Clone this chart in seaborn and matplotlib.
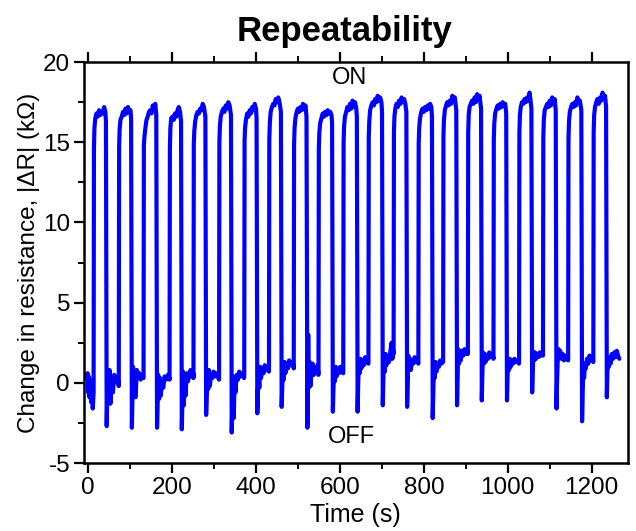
import pandas as pd
import seaborn as sns
import matplotlib.pyplot as plt
from matplotlib.ticker import MultipleLocator

# Trace, one row per ON/OFF cycle
time_s = [
    -3, -1.5, 0, 1.5, 3, 5, 7, 9, 11, 12.5,
    13, 13.8, 15, 17, 20, 23, 26, 29, 32, 35, 38, 41, 42.4,
    44.2, 45.5, 47, 49, 51, 53, 56, 59, 62, 66, 70, 72.7,
    73, 73.8, 75, 77, 80, 83, 86, 89, 92, 95, 98, 101, 102.4,
    104.2, 105.5, 107, 109, 111, 113, 116, 119, 122, 125, 128, 131.7,
    132, 132.8, 134, 136, 139, 142, 145, 148, 151, 154, 157, 160, 162.4,
    164.2, 165.5, 167, 169, 171, 173, 176, 179, 182, 186, 190, 193.7,
    194, 194.8, 196, 198, 201, 204, 207, 210, 213, 216, 219, 221.4,
    223.2, 224.5, 226, 228, 230, 232, 235, 238, 241, 244, 247, 250.7,
    251, 251.8, 253, 255, 258, 261, 264, 267, 270, 273, 276, 279.4,
    281.2, 282.5, 284, 286, 288, 290, 293, 296, 299, 303, 307, 311.7,
    312, 312.8, 314, 316, 319, 322, 325, 328, 331, 334, 337, 340.4,
    342.2, 343.5, 345, 347, 349, 351, 354, 357, 360, 364, 368, 371.7,
    372, 372.8, 374, 376, 379, 382, 385, 388, 391, 394, 397, 400, 401.4,
    403.2, 404.5, 406, 408, 410, 412, 415, 418, 421, 424, 427, 430.7,
    431, 431.8, 433, 435, 438, 441, 444, 447, 450, 453, 456, 459.4,
    461.2, 462.5, 464, 466, 468, 470, 473, 476, 479, 483, 487, 489.7,
    490, 490.8, 492, 494, 497, 500, 503, 506, 509, 512, 515, 518, 520.4,
    522.5, 524.5, 526, 528, 530, 532, 535, 538, 541, 544, 547, 548.7,
    549, 549.8, 551, 553, 556, 559, 562, 565, 568, 571, 574, 577, 580, 581.4,
    583.2, 584.5, 586, 588, 590, 592, 595, 598, 601, 604, 607.7,
    608, 608.8, 610, 612, 615, 618, 621, 624, 627, 630, 633, 636, 639, 640.4,
    642.2, 643.5, 645, 647, 649, 651, 654, 657, 660, 663, 667.7,
    668, 668.8, 670, 672, 675, 678, 681, 684, 687, 690, 693, 696, 699, 700.4,
    702.2, 703.5, 705, 707, 709, 711, 714, 717, 720, 723, 725, 727.7,
    728, 728.8, 730, 732, 735, 738, 741, 744, 747, 750, 753, 756, 758.4,
    760.2, 761.5, 763, 765, 767, 769, 772, 775, 778, 781, 784, 786.7,
    787, 787.8, 789, 791, 794, 797, 800, 803, 806, 809, 812, 815, 818, 819.4,
    821.2, 822.5, 824, 826, 828, 830, 833, 836, 839, 842, 845.7,
    846, 846.8, 848, 850, 853, 856, 859, 862, 865, 868, 871, 874, 877.4,
    879.2, 880.5, 882, 884, 886, 888, 891, 894, 897, 900, 904.7,
    905, 905.8, 907, 909, 912, 915, 918, 921, 924, 927, 930, 933, 936.4,
    938.2, 939.5, 941, 943, 945, 947, 950, 953, 956, 959, 962, 965.7,
    966, 966.8, 968, 970, 973, 976, 979, 982, 985, 988, 991, 994, 996.4,
    998.2, 999.5, 1001, 1003, 1005, 1007, 1010, 1013, 1016, 1020, 1024, 1026.7,
    1027, 1027.8, 1029, 1031, 1034, 1037, 1040, 1043, 1046, 1049, 1052, 1054, 1056.4,
    1058.2, 1059.5, 1061, 1063, 1065, 1067, 1070, 1073, 1076, 1079, 1083.7,
    1084, 1084.8, 1086, 1088, 1091, 1094, 1097, 1100, 1103, 1106, 1109, 1112, 1114.4,
    1116.2, 1117.5, 1119, 1121, 1123, 1125, 1128, 1131, 1134, 1137, 1140, 1143.7,
    1144, 1144.8, 1146, 1148, 1151, 1154, 1157, 1160, 1163, 1166, 1169, 1172, 1175.4,
    1177.2, 1178.5, 1180, 1182, 1184, 1186, 1189, 1192, 1195, 1198, 1201, 1203.7,
    1204, 1204.8, 1206, 1208, 1211, 1214, 1217, 1220, 1223, 1226, 1229, 1232, 1234.4,
    1236.2, 1237.5, 1239, 1241, 1243, 1245, 1248, 1251, 1254, 1257, 1260, 1263, 1266,
]

delta_r_kohm = [
    0.3, 0.6, -0.6, 0.4, -0.9, 0.2, -1.2, -0.4, -1.6, -0.8,
    -0.6, 14.6, 15.9, 16.5, 16.8, 16.6, 17.0, 16.7, 16.9, 16.8, 17.2, 16.9, 16.3,
    -2.7, -0.9, 0.6, -0.5, 0.8, -1.3, 0.2, -0.6, 0.5, 0.1, 0.4, -0.2,
    -0.2, 14.7, 15.8, 16.4, 16.6, 16.9, 16.7, 17.1, 16.8, 17.2, 16.9, 17.0, 16.4,
    -2.8, -1.0, 1.0, -0.3, 0.6, -0.9, 0.8, 0.3, 0.6, 0.2, 0.5, 0.3,
    0.3, 14.8, 15.3, 15.8, 16.4, 16.6, 16.9, 17.0, 16.8, 17.3, 17.1, 17.4, 16.7,
    -2.8, -1.2, 0.5, -1.0, 0.3, -0.8, 0.1, -0.3, 0.4, 0.2, 0.5, 0.3,
    0.2, 14.6, 15.9, 16.5, 16.6, 16.4, 16.8, 16.6, 17.0, 17.2, 16.9, 16.3,
    -2.9, -1.1, 0.7, -1.4, 0.2, -0.8, 0.6, 0.1, 0.5, 0.8, 0.4, 0.6,
    0.3, 14.9, 15.7, 16.3, 16.7, 16.9, 16.8, 17.1, 17.0, 17.4, 17.2, 16.6,
    -2.0, -0.8, 0.6, -0.4, 0.8, -0.2, 0.5, 0.3, 0.7, 0.4, 0.6, 0.2,
    0.2, 15.0, 16.0, 16.6, 16.9, 17.1, 16.9, 17.3, 17.1, 17.5, 17.3, 16.7,
    -3.1, -1.5, 0.4, -2.2, 0.1, -0.6, 0.5, 0.2, 0.7, 0.4, 0.6, 0.3,
    0.4, 15.1, 15.9, 16.4, 16.8, 16.6, 17.0, 16.8, 17.2, 17.0, 17.4, 17.1, 16.5,
    -1.9, -0.6, 0.5, -0.3, 1.0, 0.3, 0.9, 0.6, 1.1, 0.8, 0.9, 0.7,
    0.8, 15.2, 16.2, 16.9, 17.2, 17.4, 17.3, 17.7, 17.5, 17.8, 17.5, 16.9,
    -1.5, -0.4, 0.9, 0.2, 1.3, 0.6, 1.2, 0.9, 1.4, 1.1, 1.3, 1.0,
    0.9, 14.9, 15.9, 16.5, 16.9, 17.1, 16.9, 17.2, 17.0, 17.4, 17.1, 17.3, 16.6,
    -2.8, 3.0, -0.3, 1.3, -0.2, 0.6, 1.2, 0.5, 1.0, 0.7, 1.1, 0.5,
    0.5, 14.6, 15.6, 16.2, 16.5, 16.8, 16.6, 16.9, 16.7, 17.0, 16.8, 16.9, 16.7, 16.2,
    -1.8, -0.5, 0.9, 0.1, 1.0, 0.4, 0.9, 0.6, 1.0, 0.8, 0.6,
    0.6, 15.0, 16.0, 16.6, 16.9, 17.2, 17.0, 17.4, 17.1, 17.6, 17.2, 17.5, 17.1, 16.6,
    -1.8, -0.2, 1.3, 0.6, 1.5, 0.9, 1.4, 1.1, 1.6, 1.3, 1.2,
    1.2, 15.3, 16.3, 17.0, 17.3, 17.5, 17.3, 17.7, 17.5, 17.9, 17.6, 17.8, 17.5, 16.9,
    -1.4, 0.2, 1.4, 0.7, 1.8, 1.1, 1.6, 1.3, 1.9, 2.5, 1.5, 2.0,
    1.8, 15.6, 16.6, 17.1, 17.4, 17.2, 17.6, 17.4, 17.8, 17.5, 17.7, 17.4, 16.9,
    -1.5, 0.1, 1.7, 0.9, 1.5, 0.8, 1.4, 1.2, 1.6, 1.3, 1.5, 1.2,
    1.2, 14.9, 15.9, 16.5, 16.9, 17.1, 16.9, 17.2, 17.0, 17.3, 17.1, 17.4, 17.2, 16.6,
    -2.2, -0.6, 1.0, 0.3, 1.3, 0.7, 1.2, 1.0, 1.4, 1.2, 1.3,
    1.3, 15.4, 16.4, 17.0, 17.3, 17.5, 17.3, 17.6, 17.4, 17.9, 17.6, 17.8, 17.0,
    -1.4, 0.4, 2.1, 1.2, 1.9, 1.4, 2.0, 1.7, 2.1, 1.8, 1.9,
    1.8, 15.6, 16.7, 17.2, 17.4, 17.6, 17.4, 17.8, 17.5, 18.0, 17.7, 17.9, 17.1,
    -1.1, 0.5, 1.9, 1.2, 1.8, 1.3, 1.7, 1.5, 1.9, 1.6, 1.8, 1.6,
    1.5, 15.2, 16.2, 16.8, 17.1, 17.3, 17.1, 17.4, 17.2, 17.5, 17.3, 17.4, 16.8,
    -1.1, 0.3, 1.4, 0.8, 1.5, 1.0, 1.4, 1.2, 1.5, 1.3, 1.4, 1.2,
    1.3, 15.6, 16.7, 17.2, 17.5, 17.4, 17.7, 17.5, 17.8, 17.6, 18.1, 17.7, 17.1,
    -0.6, 0.8, 1.9, 1.4, 1.9, 1.5, 1.8, 1.6, 1.9, 1.7, 1.8,
    1.7, 15.3, 16.4, 17.0, 17.2, 17.4, 17.2, 17.6, 17.3, 17.8, 17.5, 17.7, 17.0,
    -1.6, 0.0, 1.3, 2.1, 1.6, 2.0, 1.5, 1.8, 1.4, 1.7, 1.5, 1.4,
    1.4, 15.2, 16.3, 16.9, 17.2, 17.4, 17.2, 17.5, 17.3, 17.8, 17.5, 17.6, 17.0,
    -2.4, -0.5, 0.8, 0.3, 1.2, 0.9, 1.5, 1.2, 1.7, 1.4, 1.6, 1.3,
    1.3, 15.6, 16.7, 17.2, 17.5, 17.7, 17.4, 17.8, 17.6, 18.1, 17.7, 17.9, 17.2,
    -0.9, 0.6, 1.5, 1.0, 1.6, 1.2, 1.8, 1.5, 1.9, 1.6, 2.0, 1.7, 1.5,
]

df = pd.DataFrame({"time": time_s, "dr": delta_r_kohm})

sns.set_theme(style="ticks")
plt.rcParams['font.family'] = ['Liberation Sans', 'DejaVu Sans']
plt.rcParams['axes.unicode_minus'] = False
plt.rcParams['text.color'] = 'black'
plt.rcParams['axes.labelcolor'] = 'black'

fig = plt.figure(figsize=(6.36, 5.31), dpi=100)
ax = fig.add_axes([0.132, 0.128, 0.855, 0.755])

sns.lineplot(data=df, x="time", y="dr", sort=False, estimator=None,
             color="#0000ff", linewidth=3.0, ax=ax)

ax.set_xlim(-10, 1286)
ax.set_ylim(-5, 20)
ax.xaxis.set_major_locator(MultipleLocator(200))
ax.xaxis.set_minor_locator(MultipleLocator(100))
ax.yaxis.set_major_locator(MultipleLocator(5))
ax.yaxis.set_minor_locator(MultipleLocator(2.5))

for s in ax.spines.values():
    s.set_linewidth(1.8)
    s.set_color("black")
ax.tick_params(which="major", direction="out", length=7, width=1.6,
               labelsize=17.5, colors="black", top=True, right=False, pad=3)
ax.tick_params(which="minor", direction="out", length=4, width=1.4,
               colors="black", top=True, right=False)

ax.set_xlabel("Time (s)", fontsize=18, labelpad=3, color="black")
ax.set_ylabel("Change in resistance, |ΔR| (kΩ)", fontsize=17.5, labelpad=2, color="black")
ax.set_title("Repeatability", fontsize=25, fontweight="bold", pad=15, x=0.48, color="black")

ax.text(624, 19.0, "ON", fontsize=17, ha="center", va="center", color="black")
ax.text(628, -3.4, "OFF", fontsize=17, ha="center", va="center", color="black")

fig.savefig("out.png", dpi=100)
